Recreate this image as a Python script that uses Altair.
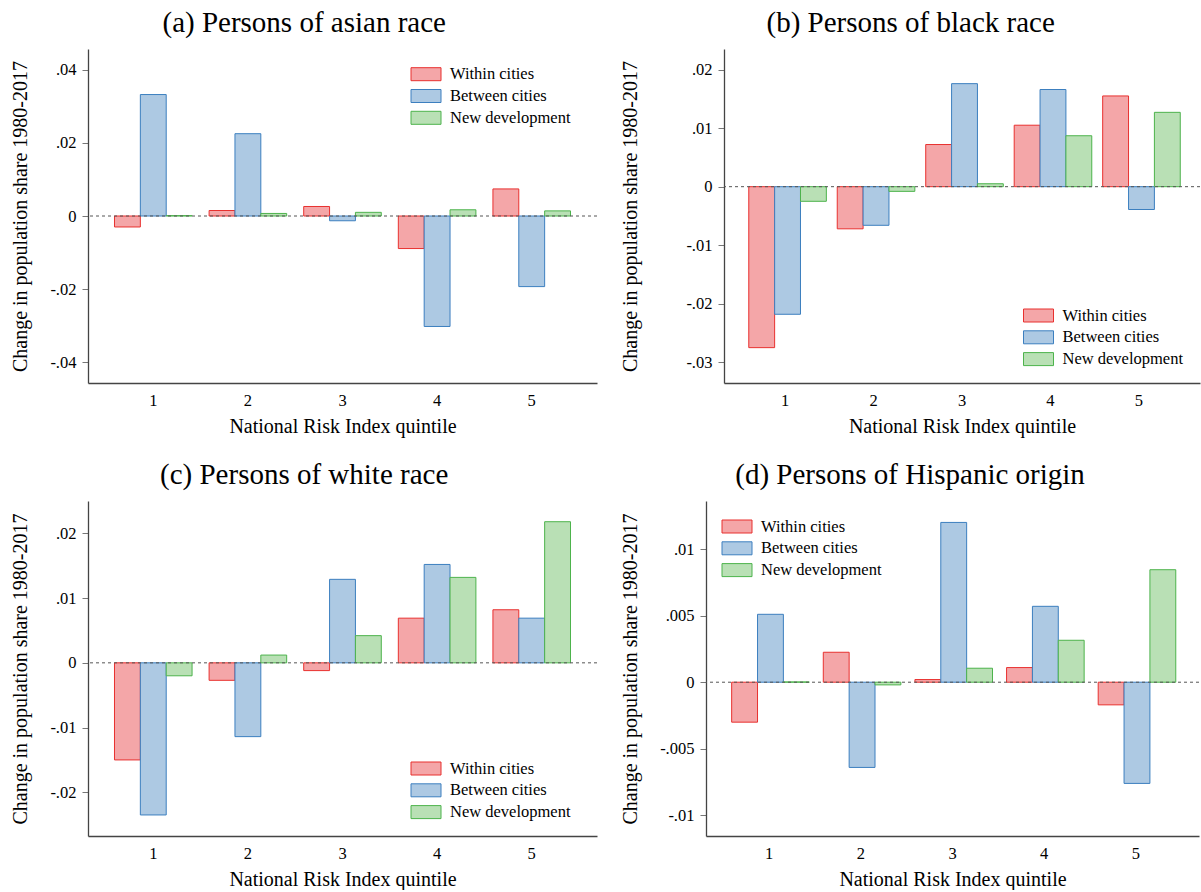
import altair as alt
import pandas as pd

quintiles = [1, 2, 3, 4, 5]
series = ["Within cities", "Between cities", "New development"]
fills = ["#f4a6a8", "#adc9e3", "#b9e0b5"]
strokes = ["#e8312f", "#3c7fbf", "#4db34c"]

asian_within = [-0.0030, 0.0015, 0.0026, -0.0089, 0.0074]
asian_between = [0.0332, 0.0225, -0.0013, -0.0302, -0.0193]
asian_new = [0.0001, 0.0007, 0.0010, 0.0017, 0.0014]

black_within = [-0.0275, -0.0072, 0.0072, 0.0105, 0.0155]
black_between = [-0.0218, -0.0066, 0.0176, 0.0166, -0.0039]
black_new = [-0.0025, -0.0008, 0.0005, 0.0087, 0.0127]

white_within = [-0.0150, -0.0027, -0.0012, 0.0069, 0.0082]
white_between = [-0.0235, -0.0114, 0.0129, 0.0152, 0.0069]
white_new = [-0.0020, 0.0012, 0.0042, 0.0132, 0.0218]

hisp_within = [-0.0030, 0.00225, 0.0002, 0.0011, -0.0017]
hisp_between = [0.0051, -0.0064, 0.0120, 0.0057, -0.0076]
hisp_new = [0.00002, -0.0002, 0.00105, 0.00315, 0.00845]

FONT = "Liberation Serif"
LABEL_EXPR = ("datum.value == 0 ? '0' : (datum.value < 0 ? '-' : '') + "
              "replace(format(abs(datum.value), '.3~f'), '0.', '.')")
SYMBOL = "M-1.5,-0.65L1.5,-0.65L1.5,0.65L-1.5,0.65Z"


def panel(title, within, between, new, domain, ticks, width, height,
          lx, ly, title_pad):
    rows = []
    for vals, s in zip([within, between, new], series):
        for q, v in zip(quintiles, vals):
            rows.append({"quintile": q, "series": s, "value": v})
    df = pd.DataFrame(rows)
    legend = alt.Legend(
        orient="none", legendX=lx, legendY=ly, title=None, direction="vertical",
        symbolType=SYMBOL, symbolSize=400, symbolStrokeWidth=1,
        labelFont=FONT, labelFontSize=16.5, labelColor="black",
        labelOffset=13.5, rowPadding=2.8, padding=0,
    )
    yscale = alt.Scale(domain=domain, nice=False, zero=False)
    bars = alt.Chart(df).mark_bar(strokeWidth=1).encode(
        x=alt.X("quintile:O",
                scale=alt.Scale(paddingInner=0.18, paddingOuter=0.28),
                axis=alt.Axis(title="National Risk Index quintile", labelAngle=0,
                              ticks=False, labelPadding=9, titlePadding=8)),
        xOffset=alt.XOffset("series:N", sort=series),
        y=alt.Y("value:Q", scale=yscale,
                axis=alt.Axis(values=ticks, labelExpr=LABEL_EXPR,
                              title="Change in population share 1980-2017",
                              tickSize=6, labelPadding=6, titlePadding=title_pad)),
        y2=alt.datum(0),
        fill=alt.Fill("series:N", sort=series,
                      scale=alt.Scale(domain=series, range=fills), legend=legend),
        stroke=alt.Stroke("series:N", sort=series,
                          scale=alt.Scale(domain=series, range=strokes), legend=legend),
    )
    zero = alt.Chart(pd.DataFrame({"value": [0.0]})).mark_rule(
        strokeDash=[3, 3], color="#555", strokeWidth=1
    ).encode(y=alt.Y("value:Q", scale=yscale))
    return alt.layer(bars, zero).properties(
        width=width, height=height,
        title=alt.TitleParams(title, font=FONT, fontSize=29, fontWeight="normal",
                              anchor="middle", frame="bounds", offset=11,
                              color="black"),
    )


a = panel("(a) Persons of asian race", asian_within, asian_between, asian_new,
          [-0.04565, 0.04565], [-0.04, -0.02, 0, 0.02, 0.04], 509, 334,
          327.5, 14.7, 19)
b = panel("(b) Persons of black race", black_within, black_between, black_new,
          [-0.03354, 0.02352], [-0.03, -0.02, -0.01, 0, 0.01, 0.02], 476, 334,
          304, 256, 45)
c = panel("(c) Persons of white race", white_within, white_between, white_new,
          [-0.02675, 0.025], [-0.02, -0.01, 0, 0.01, 0.02], 509, 335,
          327.5, 257, 19)
d = panel("(d) Persons of Hispanic origin", hisp_within, hisp_between, hisp_new,
          [-0.01155, 0.01361], [-0.01, -0.005, 0, 0.005, 0.01], 493, 335,
          20.5, 15, 19)

indep_scale = dict(fill="independent", stroke="independent", y="independent",
                   x="independent")
indep_legend = dict(fill="independent", stroke="independent")

row1 = alt.hconcat(a, b, spacing=22).resolve_scale(**indep_scale).resolve_legend(**indep_legend)
row2 = alt.hconcat(c, d, spacing=22).resolve_scale(**indep_scale).resolve_legend(**indep_legend)

chart = alt.vconcat(row1, row2, spacing=24).resolve_scale(
    **indep_scale
).resolve_legend(**indep_legend).configure(
    padding={"left": 10, "top": 9, "right": 0, "bottom": 0},
    background="white",
).configure_view(stroke=None).configure_axis(
    grid=False, domainColor="#444", domainWidth=1.3, tickColor="#777",
    labelFont=FONT, labelFontSize=16.5, labelColor="black",
    titleFont=FONT, titleFontSize=20, titleFontWeight="normal", titleColor="black",
)

chart.save("out.html", embed_options={"renderer": "svg", "actions": False})
